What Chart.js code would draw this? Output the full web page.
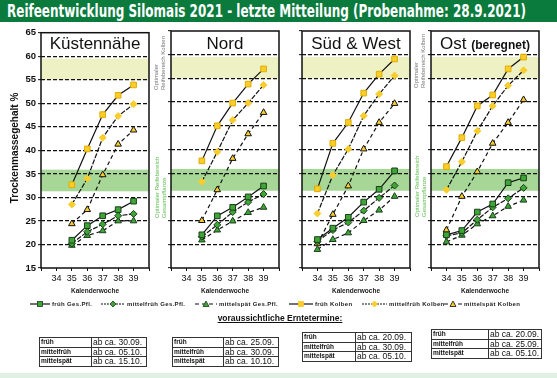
<!DOCTYPE html>
<html lang="de">
<head>
<meta charset="utf-8">
<script src="https://cdn.jsdelivr.net/npm/chart.js@4.4.1/dist/chart.umd.min.js"></script>
<style>
  body { margin: 0; }
  #page { position: relative; width: 557px; height: 378px; background: #fff; overflow: hidden;
          font-family: "Liberation Sans", Arial, sans-serif; color: #111; }
  #titlebar { position: absolute; left: 0; top: 0; width: 557px; height: 22px; background: #0a7a3d; }
  #titletext { position: absolute; left: 7px; top: 1px; white-space: nowrap; color: #fff; font-weight: bold;
               font-size: 17px; line-height: 20px; font-family: "Liberation Sans Narrow", "DejaVu Sans Condensed", "Liberation Sans", sans-serif;
               transform-origin: 0 0; }
  canvas { position: absolute; top: 25px; }
  .ptitle { position: absolute; top: 35px; width: 108px; text-align: center; font-size: 17px; line-height: 17px; white-space: nowrap; }
  .rot { position: absolute; transform-origin: 0 0; transform: rotate(-90deg); white-space: nowrap;
         font-size: 6px; line-height: 6.5px; }
  .gray { color: #777; }
  .grn { color: #5cbd4c; }
  #ytitle { position: absolute; left: 9px; top: 208px; width: 120px; text-align: center; transform-origin: 0 0;
            transform: rotate(-90deg); font-size: 10px; line-height: 12px; font-weight: bold; white-space: nowrap; }
  .leg { position: absolute; top: 299px; height: 9px; display: flex; align-items: center; white-space: nowrap;
         font-size: 6px; font-weight: bold; letter-spacing: 0.35px; color: #222; }
  .leg svg { margin-right: 2px; }
  #ernte { position: absolute; left: 180px; width: 200px; top: 313px; text-align: center; font-size: 8.5px;
           font-weight: bold; text-decoration: underline; }
  table.tt { position: absolute; border-collapse: collapse; border: 1.5px solid #222; table-layout: fixed; }
  table.tt td { border: 1px solid #333; height: 8.6px; padding: 0 0 0 1px; line-height: 8px; font-size: 8.5px; white-space: nowrap; overflow: hidden; }
  table.tt td.k { font-size: 6.5px; font-weight: bold; }
  #strip { position: absolute; left: 0; top: 373px; width: 557px; height: 5px; background: #e1f0e5; }
</style>
</head>
<body>
<div id="page">
  <div id="titlebar"><span id="titletext">Reifeentwicklung Silomais 2021 - letzte Mitteilung (Probenahme: 28.9.2021)</span></div>

  <canvas id="c1" width="144" height="273"></canvas>
  <canvas id="c2" width="144" height="273"></canvas>
  <canvas id="c3" width="144" height="273"></canvas>
  <canvas id="c4" width="144" height="273"></canvas>

  <div class="ptitle" style="left:41px;">Küstennähe</div>
  <div class="ptitle" style="left:171px;">Nord</div>
  <div class="ptitle" style="left:302px;">Süd &amp; West</div>
  <div class="ptitle" style="left:431px;">Ost <span style="font-size:12px;font-weight:bold;">(beregnet)</span></div>

  <div id="ytitle">Trockenmassegehalt %</div>

  <div class="rot gray" style="left:153px;top:90px;">Optimaler<br>Reifebereich Kolben</div>
  <div class="rot grn" style="left:154px;top:218px;">Optimaler Reifebereich<br>Gesamtpflanze</div>
  <div class="rot gray" style="left:413px;top:88px;">Optimaler<br>Reifebereich Kolben</div>
  <div class="rot grn" style="left:414px;top:217px;">Optimaler Reifebereich<br>Gesamtpflanze</div>

  <div id="legend"></div>

  <div id="ernte">voraussichtliche Erntetermine:</div>
  <div id="tables"></div>
  <div id="strip"></div>
</div>

<script>
// Kalenderwochen
const weeks = [34, 35, 36, 37, 38, 39];

// Küstennähe
const kuFruehGP = [null, 20.9, 24.0, 26.1, 27.4, 29.2];
const kuMfGP    = [null, 20.2, 22.7, 24.3, 26.1, 26.5];
const kuMsGP    = [null, 19.8, 21.9, 22.9, 25.0, 25.0];
const kuFruehK  = [null, 32.7, 40.3, 47.6, 51.7, 53.9];
const kuMfK     = [null, 28.5, 34.0, 42.7, 47.3, 49.8];
const kuMsK     = [null, 24.4, 27.4, 34.8, 41.3, 44.3];

// Nord
const noFruehGP = [null, 22.0, 26.0, 27.8, 30.0, 32.3];
const noMfGP    = [null, 21.6, 24.1, 26.8, 28.9, 30.6];
const noMsGP    = [null, 20.9, 23.0, 24.9, 26.7, 27.8];
const noFruehK  = [null, 37.6, 45.0, 49.8, 53.8, 57.0];
const noMfK     = [null, 33.2, 39.5, 46.2, 49.8, 53.6];
const noMsK     = [null, 25.0, 31.5, 38.1, 43.3, 47.8];

// Süd & West
const swFruehGP = [21.0, 23.4, 25.7, 28.9, 31.6, 35.5];
const swMfGP    = [20.6, 23.0, 24.6, 27.1, 29.8, 32.4];
const swMsGP    = [18.9, 21.0, 22.4, 25.0, 27.2, 30.1];
const swFruehK  = [31.7, 41.3, 45.7, 51.9, 55.9, 59.1];
const swMfK     = [26.5, 34.6, 40.1, 47.1, 51.7, 55.6];
const swMsK     = [20.1, 26.3, 32.3, 40.1, 45.7, 49.7];

// Ost (beregnet)
const osFruehGP = [22.0, 22.9, 26.8, 28.5, 33.0, 34.0];
const osMfGP    = [21.8, 22.4, 25.2, 27.8, 29.7, 31.9];
const osMsGP    = [20.5, 21.9, 24.3, 26.0, 28.0, 29.3];
const osFruehK  = [36.4, 42.5, 49.2, 51.5, 57.0, 59.5];
const osMfK     = [31.5, 37.4, 43.9, 49.2, 53.5, 56.7];
const osMsK     = [23.0, 30.1, 35.3, 41.3, 45.7, 50.5];

// optimale Reifebereiche (Trockenmasse %)
const bandKolben = [55, 59.5];
const bandGesamt = [31.3, 35.9];

// Erntetermine
const reifeGruppen = ['früh', 'mittelfrüh', 'mittelspät'];
const ernteTermine = [
  ['30.09.', '05.10.', '15.10.'],
  ['25.09.', '30.09.', '10.10.'],
  ['20.09.', '30.09.', '05.10.'],
  ['20.09.', '25.09.', '05.10.']
];

const legendLabels = ['früh Ges.Pfl.', 'mittelfrüh Ges.Pfl.', 'mittelspät Ges.Pfl.',
                      'früh Kolben', 'mittelfrüh Kolben', 'mittelspät Kolben'];

const yellow = '#f8cd2c', yellowEdge = '#e2ad00';
const green = '#3da637', greenEdge = '#1c3d1b';
const dashMf = [5, 1.5], dashMs = [4, 3];

// fit title to its width
const tt = document.getElementById('titletext');
tt.style.transform = 'scaleX(' + (519 / tt.getBoundingClientRect().width) + ')';

function line(label, data, style, radius, fill, edge, dash) {
  return {
    label, data,
    borderColor: '#111', borderWidth: 1.2, borderDash: dash,
    pointStyle: style, pointRadius: radius,
    pointBackgroundColor: fill, pointBorderColor: edge, pointBorderWidth: 1,
    fill: false, tension: 0
  };
}

const bands = {
  id: 'bands',
  beforeDraw(chart) {
    const { ctx, chartArea: a, scales: { y } } = chart;
    ctx.save();
    ctx.fillStyle = '#eef1c4';
    ctx.fillRect(a.left, y.getPixelForValue(bandKolben[1]), a.width,
      y.getPixelForValue(bandKolben[0]) - y.getPixelForValue(bandKolben[1]));
    ctx.fillStyle = '#a6d796';
    ctx.fillRect(a.left, y.getPixelForValue(bandGesamt[1]), a.width,
      y.getPixelForValue(bandGesamt[0]) - y.getPixelForValue(bandGesamt[1]));
    ctx.restore();
  },
  afterDraw(chart) {
    const { ctx, chartArea: a } = chart;
    ctx.save();
    ctx.strokeStyle = '#111';
    ctx.lineWidth = 1.5;
    ctx.strokeRect(a.left, a.top, a.width, a.height);
    ctx.restore();
  }
};

function makePanel(id, plotLeft, s, showY) {
  const cv = document.getElementById(id);
  cv.style.left = (plotLeft - 30) + 'px';
  new Chart(cv, {
    type: 'line',
    data: {
      labels: weeks,
      datasets: [
        line(legendLabels[0], s[0], 'rect', 4, green, greenEdge, []),
        line(legendLabels[1], s[1], 'rectRot', 3.5, green, greenEdge, dashMf),
        line(legendLabels[2], s[2], 'triangle', 3.8, green, greenEdge, dashMs),
        line(legendLabels[3], s[3], 'rect', 4, yellow, yellowEdge, []),
        line(legendLabels[4], s[4], 'rectRot', 3.5, yellow, yellow, dashMf),
        line(legendLabels[5], s[5], 'triangle', 3.8, yellow, '#111', dashMs)
      ]
    },
    options: {
      responsive: false,
      animation: false,
      events: [],
      layout: { padding: { top: 6, right: 6, left: 0, bottom: 0 } },
      plugins: { legend: { display: false }, tooltip: { enabled: false } },
      scales: {
        x: {
          type: 'linear', min: 33, max: 40,
          afterFit: sc => { sc.height = 30; },
          ticks: {
            stepSize: 1, autoSkip: false, maxRotation: 0, padding: 2, color: '#111',
            font: { size: 9 },
            callback: v => (v > 33 && v < 40) ? v : ''
          },
          grid: { drawOnChartArea: false, tickLength: 3, color: '#111', lineWidth: 1 },
          border: { display: false },
          title: { display: true, text: 'Kalenderwoche', color: '#222',
                   font: { size: 6.5, weight: 'bold' }, padding: { top: 2, bottom: 3 } }
        },
        y: {
          min: 15, max: 65,
          afterFit: sc => { sc.width = 30; },
          ticks: { stepSize: 5, display: showY, padding: 2, color: '#111',
                   font: { size: 9.5, weight: 'bold' } },
          grid: {
            color: c => (c.tick && c.tick.value > 15 && c.tick.value < 65) ? '#111' : 'rgba(0,0,0,0)',
            lineWidth: 1.3, tickColor: '#111', tickWidth: 1, tickLength: 3
          },
          border: { display: false, dash: [4, 2] }
        }
      }
    },
    plugins: [bands]
  });
}

makePanel('c1', 41, [kuFruehGP, kuMfGP, kuMsGP, kuFruehK, kuMfK, kuMsK], true);
makePanel('c2', 171, [noFruehGP, noMfGP, noMsGP, noFruehK, noMfK, noMsK], false);
makePanel('c3', 302, [swFruehGP, swMfGP, swMsGP, swFruehK, swMfK, swMsK], false);
makePanel('c4', 431, [osFruehGP, osMfGP, osMsGP, osFruehK, osMfK, osMsK], false);

// legend
const legPos = [[30, 20], [101, 24], [195, 22], [289, 24], [362, 25], [444, 18]];
const legMarks = ['rect', 'dia', 'tri', 'rect', 'dia', 'tri'];
const legDash = ['', '2,1', '4,3', '', '2,1', '4,3'];
const legend = document.getElementById('legend');
legendLabels.forEach((lab, i) => {
  const [x, w] = legPos[i];
  const fill = i < 3 ? green : yellow;
  const edge = i < 3 ? greenEdge : (i === 5 ? '#111' : yellow);
  const cx = w / 2;
  let mark;
  if (legMarks[i] === 'rect') mark = `<rect x="${cx - 2.5}" y="1.5" width="5" height="5" fill="${fill}" stroke="${edge}" stroke-width="0.8"/>`;
  else if (legMarks[i] === 'dia') mark = `<polygon points="${cx},1 ${cx + 3},4 ${cx},7 ${cx - 3},4" fill="${fill}" stroke="${edge}" stroke-width="0.8"/>`;
  else mark = `<polygon points="${cx},1 ${cx + 3},6.5 ${cx - 3},6.5" fill="${fill}" stroke="${edge}" stroke-width="0.8"/>`;
  const el = document.createElement('div');
  el.className = 'leg';
  el.style.left = x + 'px';
  el.innerHTML = `<svg width="${w}" height="8"><line x1="0" y1="4" x2="${w}" y2="4" stroke="#111" stroke-width="1.2"` +
    (legDash[i] ? ` stroke-dasharray="${legDash[i]}"` : '') + `/>${mark}</svg>${lab}`;
  legend.appendChild(el);
});

// tables
const tabPos = [[39, 337, 108, 52], [172, 337, 107, 51], [302, 332, 110, 53], [431, 329, 111, 57]];
const tables = document.getElementById('tables');
ernteTermine.forEach((col, t) => {
  const [x, y, w, c] = tabPos[t];
  const tb = document.createElement('table');
  tb.className = 'tt';
  tb.style.left = x + 'px';
  tb.style.top = y + 'px';
  tb.style.width = w + 'px';
  let html = `<colgroup><col style="width:${c}px"><col></colgroup>`;
  reifeGruppen.forEach((g, r) => {
    html += `<tr><td class="k">${g}</td><td>ab ca. ${col[r]}</td></tr>`;
  });
  tb.innerHTML = html;
  tables.appendChild(tb);
});
</script>
</body>
</html>
